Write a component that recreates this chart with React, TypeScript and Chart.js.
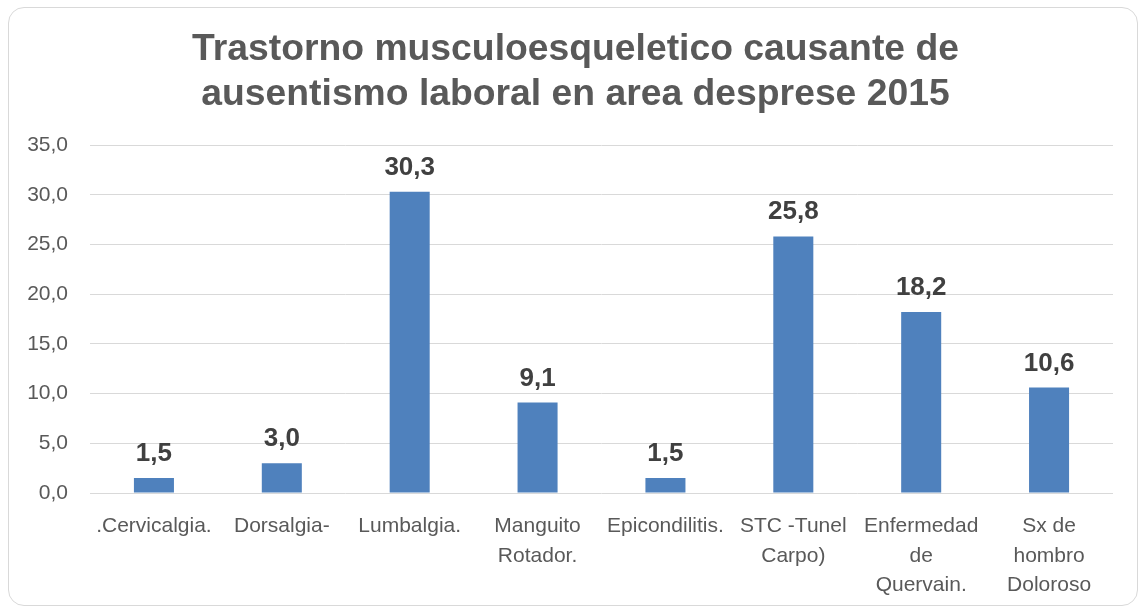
import React, { useEffect, useRef } from "react";
import { Chart, registerables } from "chart.js";

Chart.register(...registerables);

const titleLines = ["Trastorno musculoesqueletico causante de", "ausentismo laboral en area desprese 2015"];
const categories: string[][] = [
  [".Cervicalgia."],
  ["Dorsalgia-"],
  ["Lumbalgia."],
  ["Manguito", "Rotador."],
  ["Epicondilitis."],
  ["STC -Tunel", "Carpo)"],
  ["Enfermedad", "de", "Quervain."],
  ["Sx de", "hombro", "Doloroso"],
];
const values = [1.5, 3.0, 30.3, 9.1, 1.5, 25.8, 18.2, 10.6];
const yMin = 0;
const yMax = 35;
const yStep = 5;

const FONT = '"Liberation Sans", Arial, sans-serif';
const fmt = (v: number) => v.toFixed(1).replace(".", ",");

const labelPlugin = {
  id: "barLabels",
  afterDatasetsDraw(chart: any) {
    const ctx = chart.ctx;
    const meta = chart.getDatasetMeta(0);
    ctx.save();
    ctx.font = `bold 26px ${FONT}`;
    ctx.fillStyle = "#404040";
    ctx.textAlign = "center";
    ctx.textBaseline = "alphabetic";
    meta.data.forEach((bar: any, i: number) => {
      ctx.fillText(fmt(values[i]), bar.x, bar.y - 17);
    });
    // title
    ctx.font = `bold 37.3px ${FONT}`;
    ctx.fillStyle = "#595959";
    ctx.textBaseline = "middle";
    titleLines.forEach((line, i) => {
      ctx.fillText(line, 566.5, 42 + i * 44.8);
    });
    ctx.restore();
  },
};

export default function App() {
  const ref = useRef<HTMLCanvasElement>(null);
  useEffect(() => {
    if (!ref.current) return;
    const chart = new Chart(ref.current, {
      type: "bar",
      data: {
        labels: categories,
        datasets: [
          {
            data: values,
            backgroundColor: "#4F81BD",
            borderWidth: 0,
            categoryPercentage: 1,
            barPercentage: 0.313,
          },
        ],
      },
      options: {
        animation: false,
        responsive: true,
        maintainAspectRatio: false,
        layout: { padding: { left: 9, right: 24, top: 137, bottom: 5 } },
        plugins: {
          legend: { display: false },
          tooltip: { enabled: false },
          title: { display: false },
        },
        scales: {
          x: {
            afterFit: (s: any) => {
              s.height = 107;
            },
            grid: { display: false },
            border: { display: false },
            ticks: {
              color: "#595959",
              font: { family: FONT, size: 21, lineHeight: 1.4 },
              autoSkip: false,
              maxRotation: 0,
              padding: 11,
            },
          },
          y: {
            min: yMin,
            max: yMax,
            afterFit: (s: any) => {
              s.width = 72;
            },
            grid: { color: "#d9d9d9", lineWidth: 1, drawTicks: false },
            border: { display: false },
            ticks: {
              stepSize: yStep,
              color: "#595959",
              font: { family: FONT, size: 21 },
              padding: 22,
              callback: (v: any) => fmt(Number(v)),
            },
          },
        },
      },
      plugins: [labelPlugin],
    });
    return () => chart.destroy();
  }, []);
  return (
    <div
      style={{
        position: "absolute",
        left: 8,
        top: 7,
        width: 1130,
        height: 599,
        boxSizing: "border-box",
        border: "1px solid #d9d9d9",
        borderRadius: 16,
        background: "#fff",
        overflow: "hidden",
      }}
    >
      <div style={{ position: "relative", width: 1128, height: 597 }}>
        <canvas ref={ref} />
      </div>
    </div>
  );
}
